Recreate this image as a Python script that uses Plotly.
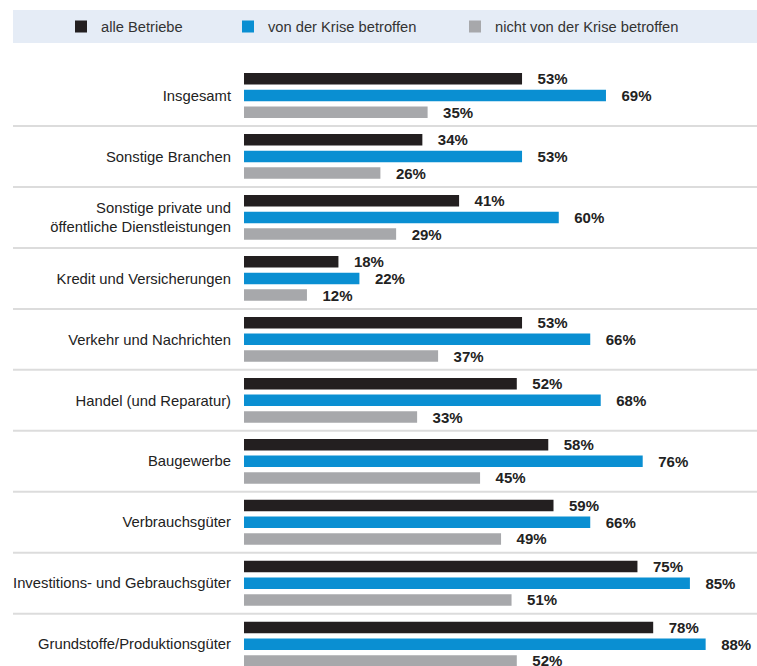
import plotly.graph_objects as go

# branches, top to bottom
categories = [
    "Insgesamt",
    "Sonstige Branchen",
    "Sonstige private und<br>öffentliche Dienstleistungen",
    "Kredit und Versicherungen",
    "Verkehr und Nachrichten",
    "Handel (und Reparatur)",
    "Baugewerbe",
    "Verbrauchsgüter",
    "Investitions- und Gebrauchsgüter",
    "Grundstoffe/Produktionsgüter",
]

series_names = ["alle Betriebe", "von der Krise betroffen", "nicht von der Krise betroffen"]
alle = [53, 34, 41, 18, 53, 52, 58, 59, 75, 78]
betroffen = [69, 53, 60, 22, 66, 68, 76, 66, 85, 88]
nicht_betroffen = [35, 26, 29, 12, 37, 33, 45, 49, 51, 52]

colors = ["#231f20", "#0a8fd2", "#a7a8ab"]
FONT = "Liberation Sans, Arial, Helvetica, sans-serif"

W, H = 757, 666
# plot area in pixels: x 244..757, y 65..666 (last group runs off the bottom)
L, T = 244, 65
pw, ph = W - L, H - T

def px_x(p):
    return (p - L) / pw

def px_y(p):
    return 1 + (T - p) / ph

fig = go.Figure()
legends = ["legend", "legend2", "legend3"]
for name, vals, col, lg in zip(series_names, [alle, betroffen, nicht_betroffen], colors, legends):
    fig.add_trace(go.Bar(
        y=categories, x=vals, name=name, orientation="h",
        marker=dict(color=col, line=dict(width=0)),
        texttemplate="\u00a0\u00a0\u00a0%{x}%", textposition="outside",
        textfont=dict(family=FONT, size=15, color="#222222", weight="bold"),
        constraintext="none", cliponaxis=True,
        legend=lg, hoverinfo="x+y+name",
    ))

# light separator lines between branches
for i in range(len(categories) - 1):
    fig.add_shape(type="line", xref="paper", yref="y",
                  x0=px_x(13), x1=1, y0=i + 0.5, y1=i + 0.5,
                  line=dict(color="#dcdcdc", width=2), layer="below")

# legend band
fig.add_shape(type="rect", xref="paper", yref="paper",
              x0=px_x(13), x1=1, y0=px_y(43), y1=px_y(10),
              fillcolor="#e5ecf6", line=dict(width=0), layer="below")

leg_common = dict(orientation="h", yanchor="middle", y=px_y(27), xanchor="left",
                  bgcolor="rgba(0,0,0,0)", borderwidth=0,
                  font=dict(family=FONT, size=14.7, color="#333333"))
fig.update_layout(
    legend=dict(x=px_x(61), **leg_common),
    legend2=dict(x=px_x(228), **leg_common),
    legend3=dict(x=px_x(455), **leg_common),
)

spacing = 60.97
fig.update_layout(
    template="none",
    width=W, height=H,
    margin=dict(l=L, r=0, t=T, b=0, pad=0, autoexpand=False),
    paper_bgcolor="white", plot_bgcolor="white",
    barmode="group", bargap=0.18, bargroupgap=0.31,
    showlegend=True,
    xaxis=dict(range=[0, pw / 5.246], showgrid=False, zeroline=False,
               showticklabels=False, showline=False, ticks="", automargin=False),
    yaxis=dict(range=[-0.5 + ph / spacing, -0.5], showgrid=False, zeroline=False,
               showline=False, ticks="", automargin=False, ticklabelstandoff=12,
               tickfont=dict(family=FONT, size=14.8, color="#222222")),
)

# drop the default page margin so the figure fills the window exactly
fig.write_html("out.html", config={"displayModeBar": False},
               post_script="document.body.style.margin='0';document.body.style.overflow='hidden';")
